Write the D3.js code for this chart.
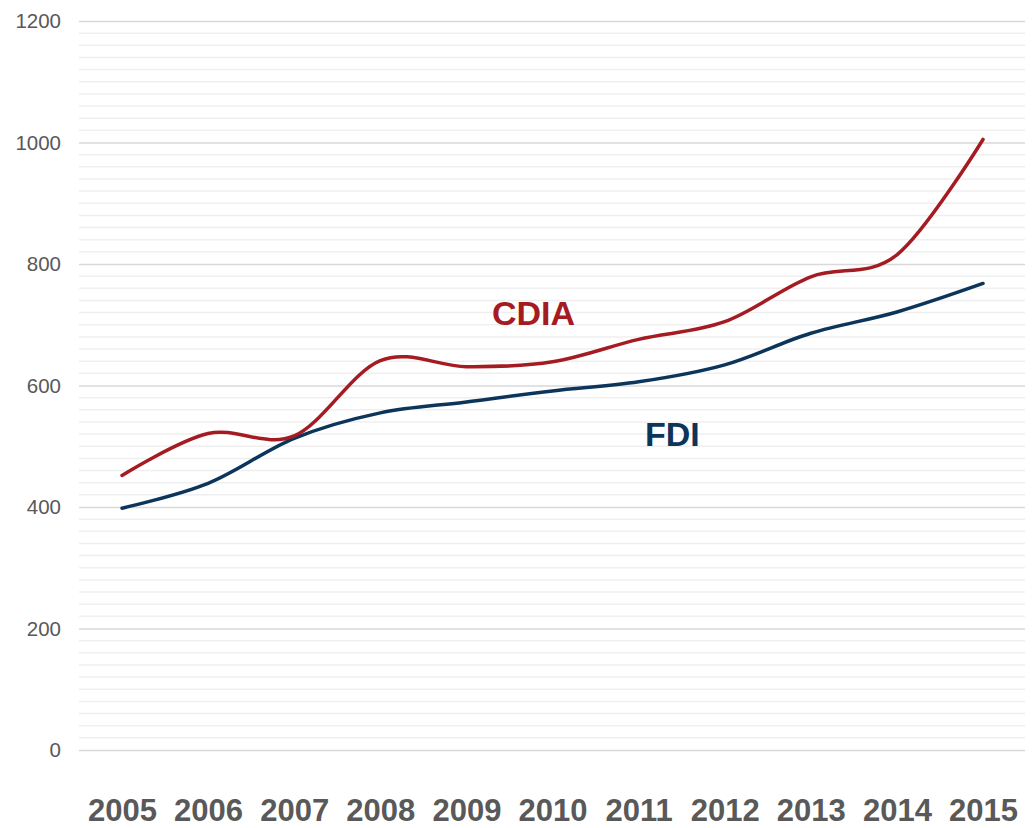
<!DOCTYPE html>
<html>
<head>
<meta charset="utf-8">
<script src="https://cdn.jsdelivr.net/npm/d3@7"></script>
<style>
  html, body { margin: 0; padding: 0; background: #ffffff; }
  svg { display: block; }
</style>
</head>
<body>
<svg id="chart" width="1034" height="828"></svg>
<script>
// Years on the x axis
const years = [2005, 2006, 2007, 2008, 2009, 2010, 2011, 2012, 2013, 2014, 2015];
// Series values
const cdia = [452, 521, 517, 641, 631, 639, 676, 705, 779, 815, 1005];
const fdi  = [398, 439, 513, 555, 573, 591, 606, 634, 686, 721, 768];
// Y axis tick labels
const yTicks = [0, 200, 400, 600, 800, 1000, 1200];
const minorStep = 20;

(function () {
  const svg = d3.select("#chart");
  const plotLeft = 79, plotRight = 1025, plotTop = 21, plotBottom = 750;

  const x = d3.scalePoint().domain(years).range([122, 983]);
  const y = d3.scaleLinear().domain([0, 1200]).range([plotBottom, plotTop]);

  // Minor gridlines every 20
  const minor = d3.range(0, 1200 + minorStep, minorStep).filter(v => v % 200 !== 0);
  svg.append("g").selectAll("line").data(minor).join("line")
    .attr("x1", plotLeft).attr("x2", plotRight)
    .attr("y1", d => y(d)).attr("y2", d => y(d))
    .attr("stroke", "#efefef").attr("stroke-width", 1.5);

  // Major gridlines with labels
  const yAxis = d3.axisLeft(y).tickValues(yTicks)
    .tickSize(-(plotRight - plotLeft)).tickPadding(18).tickFormat(d3.format("d"));
  const gy = svg.append("g").attr("transform", `translate(${plotLeft},0)`).call(yAxis);
  gy.select(".domain").remove();
  gy.selectAll(".tick line").attr("stroke", "#d9d9d9").attr("stroke-width", 1.5);
  gy.selectAll(".tick text")
    .attr("fill", "#595959")
    .style("font-family", "'Liberation Sans', Arial, sans-serif")
    .style("font-size", "20.5px");

  // X axis labels
  const xAxis = d3.axisBottom(x).tickSize(0).tickPadding(0);
  const gx = svg.append("g").attr("transform", `translate(0,${plotBottom})`).call(xAxis);
  gx.select(".domain").remove();
  gx.selectAll(".tick text")
    .attr("dy", null)
    .attr("y", 71)
    .attr("fill", "#595959")
    .style("font-family", "'Liberation Sans', Arial, sans-serif")
    .style("font-weight", "bold")
    .style("font-size", "31px");

  // Smoothed lines
  const line = d3.line()
    .x((d, i) => x(years[i]))
    .y(d => y(d))
    .curve(d3.curveCardinal.tension(0));

  svg.append("path").datum(fdi)
    .attr("d", line).attr("fill", "none")
    .attr("stroke", "#0c355c").attr("stroke-width", 3.5)
    .attr("stroke-linecap", "round");

  svg.append("path").datum(cdia)
    .attr("d", line).attr("fill", "none")
    .attr("stroke", "#a51b22").attr("stroke-width", 3.5)
    .attr("stroke-linecap", "round");

  // Series labels
  svg.append("text").text("CDIA")
    .attr("x", 492).attr("y", 325)
    .attr("fill", "#a51b22")
    .style("font-family", "'Liberation Sans', Arial, sans-serif")
    .style("font-weight", "bold").style("font-size", "34px");

  svg.append("text").text("FDI")
    .attr("x", 645).attr("y", 446)
    .attr("fill", "#0c355c")
    .style("font-family", "'Liberation Sans', Arial, sans-serif")
    .style("font-weight", "bold").style("font-size", "34px");
})();
</script>
</body>
</html>
